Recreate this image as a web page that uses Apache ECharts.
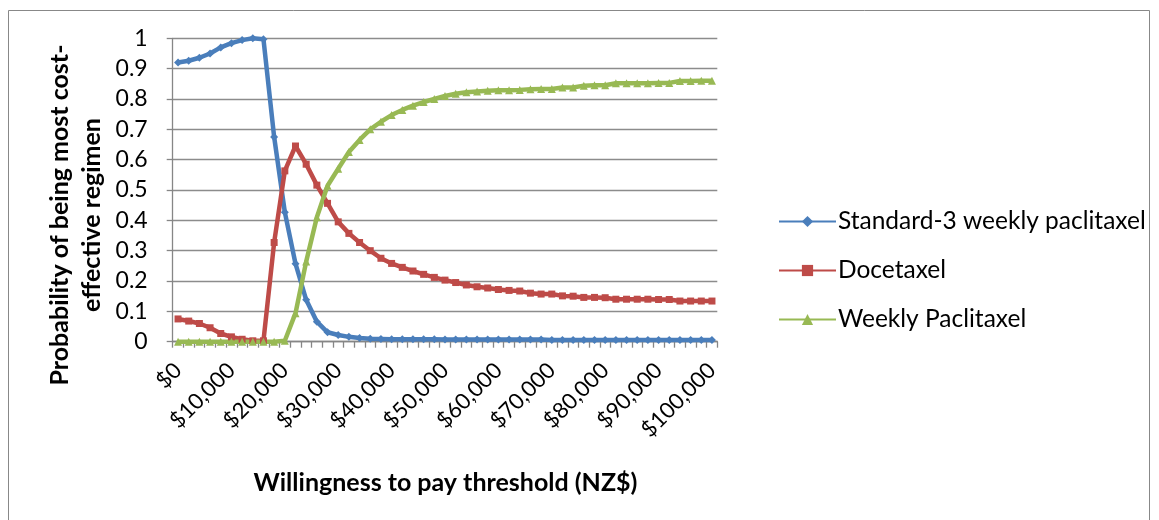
<!DOCTYPE html>
<html>
<head>
<meta charset="utf-8">
<script src="https://cdn.jsdelivr.net/npm/echarts@6/dist/echarts.min.js"></script>
<style>
html,body{margin:0;padding:0;background:#fff;}
#c{width:1159px;height:520px;}
</style>
</head>
<body>
<div id="c"></div>
<script>
var categories = [0,2000,4000,6000,8000,10000,12000,14000,16000,18000,20000,22000,24000,26000,28000,30000,32000,34000,36000,38000,40000,42000,44000,46000,48000,50000,52000,54000,56000,58000,60000,62000,64000,66000,68000,70000,72000,74000,76000,78000,80000,82000,84000,86000,88000,90000,92000,94000,96000,98000,100000];
var standard3 = [0.92,0.926,0.936,0.95,0.97,0.984,0.994,1.0,0.997,0.675,0.427,0.257,0.138,0.066,0.031,0.022,0.016,0.012,0.010,0.009,0.008,0.008,0.008,0.008,0.008,0.007,0.007,0.007,0.007,0.007,0.007,0.007,0.007,0.007,0.007,0.006,0.006,0.006,0.006,0.006,0.006,0.006,0.006,0.006,0.006,0.006,0.006,0.006,0.006,0.006,0.006];
var docetaxel = [0.075,0.068,0.06,0.046,0.027,0.016,0.008,0.003,0.003,0.327,0.563,0.645,0.585,0.516,0.456,0.395,0.357,0.327,0.300,0.275,0.258,0.245,0.233,0.222,0.212,0.203,0.195,0.187,0.181,0.177,0.172,0.169,0.167,0.160,0.157,0.157,0.151,0.150,0.146,0.146,0.145,0.140,0.140,0.140,0.140,0.139,0.139,0.134,0.134,0.134,0.134];
var weeklyPac = [0,0,0,0,0,0,0,0,0,0,0.003,0.094,0.264,0.41,0.514,0.57,0.625,0.665,0.70,0.725,0.747,0.764,0.778,0.79,0.80,0.81,0.817,0.822,0.825,0.827,0.829,0.829,0.83,0.832,0.833,0.833,0.838,0.838,0.844,0.845,0.845,0.852,0.852,0.852,0.852,0.853,0.853,0.859,0.859,0.86,0.86];
var seriesNames = ['Standard-3 weekly paclitaxel','Docetaxel','Weekly Paclitaxel'];
var colors = ['#4A7EBB','#BE4B48','#98B954'];
var FONT = 'Lato';

function fmtMoney(v){
  return '$' + Number(v).toLocaleString('en-US');
}

var chart = echarts.init(document.getElementById('c'), null, {renderer:'canvas'});
var mk = function(name, data, color, symbol, size){
  return {
    name: name, type:'line', data: data,
    symbol: symbol, symbolSize: size, showSymbol: true, showAllSymbol: true,
    itemStyle: {color: color, borderColor: color, borderWidth: 0},
    lineStyle: {color: color, width: 4.5},
    animation: false
  };
};
chart.setOption({
  backgroundColor: '#fff',
  animation: false,
  textStyle: {fontFamily: FONT},
  grid: {left: 172.7, right: 441.7, top: 38.3, bottom: 178.3, containLabel: false},
  legend: {
    orient: 'vertical', left: 773, top: 204,
    itemWidth: 57, itemHeight: 14, itemGap: 24,
    data: seriesNames,
    textStyle: {fontFamily: FONT, fontSize: 24.5, color: '#000', lineHeight: 24, padding: [0,0,0,-3]},
    selectedMode: false
  },
  xAxis: {
    type: 'category', data: categories, boundaryGap: true,
    axisLine: {lineStyle: {color: '#868686', width: 1.3}},
    axisTick: {show: true, interval: 0, length: 6, lineStyle: {color: '#868686', width: 1.3}},
    axisLabel: {interval: 4, rotate: 45, margin: 25, color: '#000', fontFamily: FONT, fontSize: 22,
      padding: [28, 0, 0, 0],
      formatter: function(v){ return fmtMoney(v); }},
    splitLine: {show: false}
  },
  yAxis: {
    type: 'value', min: 0, max: 1, interval: 0.1,
    axisLine: {show: true, lineStyle: {color: '#868686', width: 1.3}},
    axisTick: {show: true, length: 6, lineStyle: {color: '#868686', width: 1.3}},
    axisLabel: {margin: 25, color: '#000', fontFamily: FONT, fontSize: 23,
      formatter: function(v){ return String(Math.round(v*10)/10); }},
    splitLine: {show: true, lineStyle: {color: '#8c8c8c', width: 1.3}}
  },
  graphic: [
    {type: 'rect', shape: {x: 8.5, y: 10.5, width: 1141, height: 540}, style: {fill: 'none', stroke: '#888', lineWidth: 1}, silent: true},
    {type: 'text', x: 76, y: 215, rotation: Math.PI/2,
      style: {text: 'Probability of being most cost-\neffective regimen', fontFamily: FONT, fontWeight: 'bold', fontSize: 25, fill: '#000', textAlign: 'center', textVerticalAlign: 'middle', lineHeight: 32}},
    {type: 'text', x: 445.5, y: 483,
      style: {text: 'Willingness to pay threshold (NZ$)', fontFamily: FONT, fontWeight: 'bold', fontSize: 25, fill: '#000', textAlign: 'center', textVerticalAlign: 'middle'}}
  ],
  series: [
    mk(seriesNames[0], standard3, colors[0], 'diamond', 8),
    mk(seriesNames[1], docetaxel, colors[1], 'rect', 7),
    mk(seriesNames[2], weeklyPac, colors[2], 'triangle', 8)
  ]
});
</script>
</body>
</html>
